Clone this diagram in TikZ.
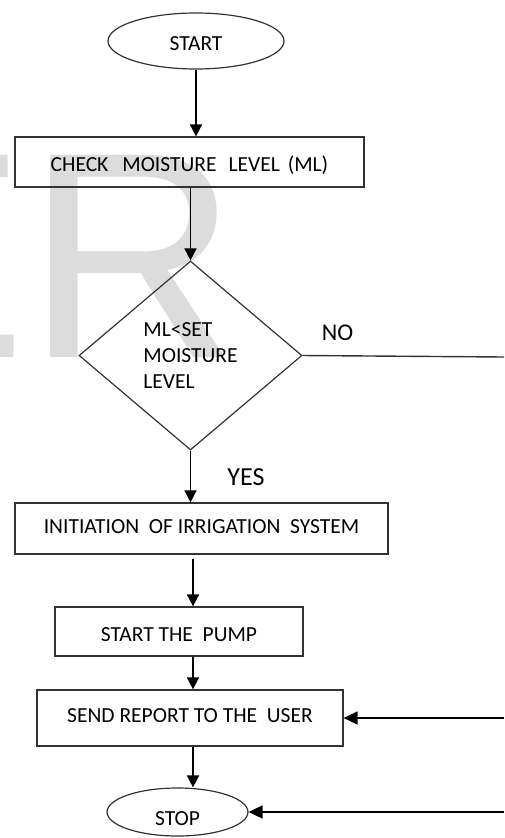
\documentclass[tikz,border=0pt]{standalone}
\usepackage{fontspec}
\setmainfont{Carlito}
\newfontfamily\wmfont{Liberation Sans}
\usetikzlibrary{shapes.geometric,arrows.meta}
\definecolor{boxline}{HTML}{333333}
\definecolor{wm}{HTML}{DCDCDC}
\begin{document}
\begin{tikzpicture}[x=1pt,y=-1pt,
  txt/.style={font=\fontsize{21.5}{26}\selectfont, text=black},
  term/.style={ellipse, draw=boxline, line width=1.2pt, inner sep=0pt, txt, text height=14pt, text depth=0pt},
  procbox/.style={rectangle, draw=boxline, line width=1.2pt, inner sep=0pt, txt, text height=14pt, text depth=0pt},
  decision/.style={diamond, draw=boxline, line width=1.2pt, inner sep=0pt, txt, align=left},
  flow/.style={draw=black, line width=1.6pt, -{Triangle[width=12pt,length=12pt]}},
  flowh/.style={draw=black, line width=1.6pt, -{Triangle[width=13pt,length=14pt]}},
  plainline/.style={draw=black!80, line width=1.4pt},
  lab/.style={text=black, inner sep=0pt}
]
\useasboundingbox (0,0) rectangle (504,838);
\fill[white] (0,0) rectangle (504,838);
\begin{scope}
\clip (0,0) rectangle (504,838);
\node[anchor=base west, inner sep=0pt, text=wm, font=\wmfont\fontsize{294}{300}\selectfont] (wm) at (-170,357) {ER};
\end{scope}

\coordinate (axis) at (193,0);
\coordinate (e1) at (504,357);
\coordinate (e2) at (504,718);
\coordinate (e3) at (504,812);

\node[term, minimum width=176pt, minimum height=56pt] (start) at (196,41) {\raisebox{-2.5pt}{START}};
\node[procbox, minimum width=349pt, minimum height=50pt] (check) at (189.5,162) {\raisebox{-2pt}{CHECK\hspace{14pt}MOISTURE\hspace{12pt}LEVEL\hspace{8pt}(ML)}};
\node[decision, minimum width=223pt, minimum height=189pt] (dec) at (190.5,355.5) {ML<SET\\MOISTURE\\LEVEL};
\node[procbox, minimum width=373pt, minimum height=51pt] (init) at (201.5,528.5) {\raisebox{2pt}{INITIATION\ \ OF IRRIGATION\ \ SYSTEM}\hspace{24pt}};
\node[procbox, minimum width=248pt, minimum height=49pt] (pump) at (179,631.5) {\raisebox{-2.5pt}{START THE\ \ PUMP}};
\node[procbox, minimum width=306pt, minimum height=56pt] (send) at (190,718) {\raisebox{3pt}{SEND REPORT TO THE\ \ USER}};
\node[term, minimum width=141pt, minimum height=48pt] (stop) at (177.5,812) {\raisebox{-6pt}{STOP}};

\node[lab, font=\fontsize{24}{28}\selectfont] (no) at (337.5,333) {NO};
\node[lab, font=\fontsize{26}{30}\selectfont] (yes) at (246,476.7) {YES};

\draw[flow] (start) -- (check.north -| start);
\draw[flow] (check.south -| dec.north) -- (dec.north);
\draw[flow] (dec.south) -- (init.north -| dec.south);
\draw[flow, shorten <=4pt] (init.south -| axis) -- (pump.north -| axis);
\draw[flow] (pump.south -| axis) -- (send.north -| axis);
\draw[flow] (send.south -| axis) -- (stop.north -| axis);
\draw[plainline] (dec.east) -- (e1);
\draw[flowh] (e2) -- (send.east);
\draw[flowh] (e3) -- (stop.east);
\end{tikzpicture}
\end{document}
